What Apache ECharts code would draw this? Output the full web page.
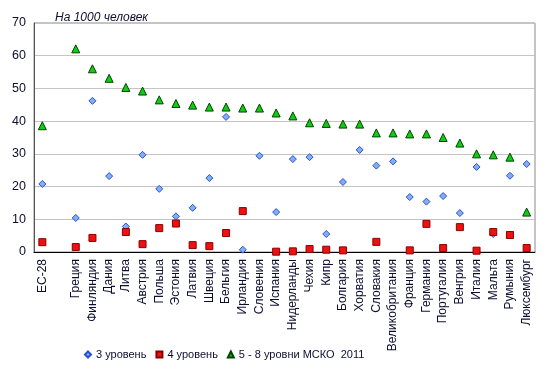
<!DOCTYPE html>
<html><head><meta charset="utf-8">
<script src="https://cdn.jsdelivr.net/npm/echarts@6/dist/echarts.min.js"></script>
<style>html,body{margin:0;padding:0;background:#fff}#c{width:549px;height:379px}</style>
</head><body><div id="c"></div>
<script>
const categories = ['ЕС-28','','Греция','Финляндия','Дания','Литва','Австрия','Польша','Эстония','Латвия','Швеция','Бельгия','Ирландия','Словения','Испания','Нидерланды','Чехия','Кипр','Болгария','Хорватия','Словакия','Великобритания','Франция','Германия','Португалия','Венгрия','Италия','Мальта','Румыния','Люксембург'];
const level3 = [20.8,null,10.4,46.2,23.2,7.8,29.7,19.3,10.9,13.5,22.6,41.3,0.7,29.4,12.2,28.4,29.0,5.5,21.4,31.2,26.4,27.7,16.8,15.4,17.1,11.9,26.0,5.5,23.3,26.9];
const level4 = [3.0,null,1.5,4.3,null,6.1,2.4,7.3,8.7,2.1,1.8,5.8,12.5,null,0.1,0.2,0.9,0.7,0.5,null,3.1,null,0.5,8.6,1.2,7.6,0.4,6.1,5.2,1.2];
const level58 = [38.6,null,62.1,56.0,53.1,50.3,49.2,46.5,45.4,44.9,44.3,44.3,44.0,44.0,42.5,41.6,39.5,39.3,39.1,39.1,36.4,36.4,36.1,36.1,35.0,33.3,30.0,29.7,29.0,12.2];
const seriesNames = ['3 уровень','4 уровень','5 - 8 уровни МСКО  2011'];
const yTicks = {min:0, max:70, interval:10};

const txt = '#0d0d30';
const font = 'Liberation Sans, Arial, sans-serif';
const chart = echarts.init(document.getElementById('c'), null, {renderer:'canvas'});
chart.setOption({
  animation:false,
  backgroundColor:'#fff',
  title:{text:'На 1000 человек', left:50, top:7, textStyle:{fontSize:12, fontStyle:'italic', fontWeight:'normal', color:txt, fontFamily:font}},
  grid:{left:34, right:14, top:23, bottom:127, show:true, borderColor:'#8a8a8a', borderWidth:1},
  legend:{top:349, left:84, itemGap:9, itemWidth:6, itemHeight:6, padding:0, textStyle:{fontSize:11, color:txt, fontFamily:font},
    data:[{name:seriesNames[0], icon:'diamond'},{name:seriesNames[1], icon:'rect'},{name:seriesNames[2], icon:'triangle'}]},
  xAxis:{type:'category', data:categories, boundaryGap:true,
    axisLine:{lineStyle:{color:'#000', width:1}}, axisTick:{show:false},
    axisLabel:{rotate:90, interval:0, margin:7, fontSize:12, color:txt, fontFamily:font}},
  yAxis:{type:'value', min:yTicks.min, max:yTicks.max, interval:yTicks.interval,
    axisLine:{show:true, lineStyle:{color:'#555'}}, axisTick:{show:false},
    splitLine:{lineStyle:{color:'#c4c4c4'}},
    axisLabel:{margin:8, fontSize:12.5, color:txt, fontFamily:font}},
  series:[
    {name:seriesNames[0], type:'scatter', data:level3, symbol:'diamond', symbolSize:7, z:3,
      itemStyle:{color:'#7fb0f5', borderColor:'#2e4fd0', borderWidth:1, opacity:1}},
    {name:seriesNames[1], type:'scatter', data:level4, symbol:'rect', symbolSize:7, z:4,
      itemStyle:{color:'#ee1111', borderColor:'#8a0000', borderWidth:1, opacity:1}},
    {name:seriesNames[2], type:'scatter', data:level58, symbol:'triangle', symbolSize:8, z:5,
      itemStyle:{color:'#11cc11', borderColor:'#004400', borderWidth:1, opacity:1}}
  ]
});
</script></body></html>
